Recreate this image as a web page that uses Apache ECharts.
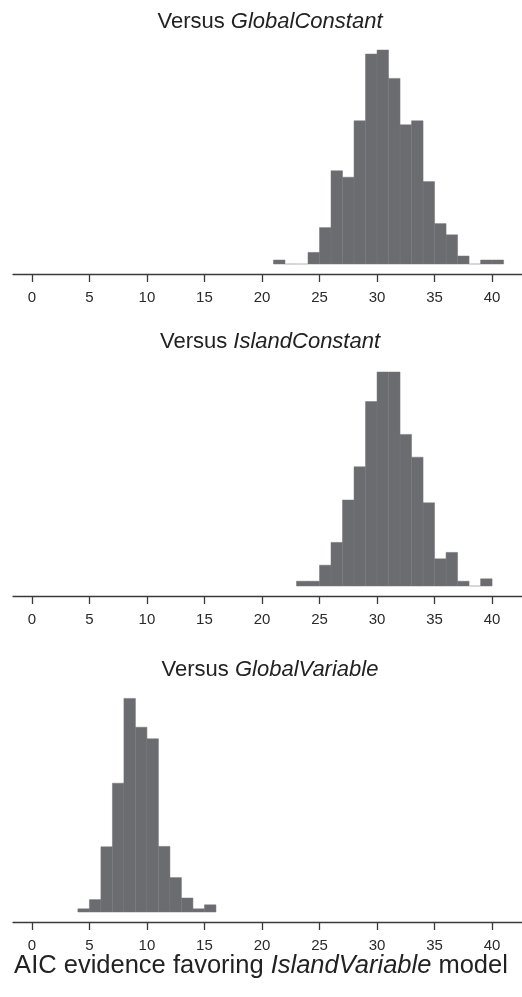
<!DOCTYPE html>
<html lang="en">
<head>
    <meta charset="UTF-8">
    <script src="https://cdn.jsdelivr.net/npm/echarts@6/dist/echarts.min.js"></script>
    <title>AIC evidence</title>
    <style>
        html, body { margin: 0; padding: 0; background: #fff; }
    </style>
</head>
<body>
    <div id="main" style="width: 522px;height:997px;"></div>
</body>
<script type="text/javascript">
    // panel titles (italic part kept separate)
    var panelNames = ['GlobalConstant', 'IslandConstant', 'GlobalVariable'];
    var tickValues = [0, 5, 10, 15, 20, 25, 30, 35, 40];

    // left edge of each 1-unit bin, and its height
    var gcBins   = [21, 22, 23, 24, 25, 26, 27, 28, 29, 30, 31, 32, 33, 34, 35, 36, 37, 38, 39, 40];
    var gcCounts = [1, 0, 0, 2.9, 9.1, 23.3, 21.7, 35.8, 52.5, 53.5, 46.4, 34.8, 35.8, 20.6, 10.1, 7.3, 2, 0, 1, 1];

    var icBins   = [23, 24, 25, 26, 27, 28, 29, 30, 31, 32, 33, 34, 35, 36, 37, 38, 39];
    var icCounts = [1.2, 1.2, 5.2, 10.9, 21.5, 29.8, 46.1, 53.5, 53.5, 37.9, 32.2, 20.8, 6.8, 8.4, 1.2, 0, 1.8];

    var gvBins   = [4, 5, 6, 7, 8, 9, 10, 11, 12, 13, 14, 15];
    var gvCounts = [0.8, 3.1, 16.3, 32.2, 53.4, 46.2, 43.3, 16.4, 8.6, 3.5, 0.8, 1.8];

    var font = 'Liberation Sans, Arial, Helvetica, sans-serif';
    var baselines = [264, 586, 912];   // bottom of bars for each panel
    var panelH = 224;

    function toData(bins, counts) {
        var out = [];
        for (var i = 0; i < bins.length; i++) {
            out.push([bins[i], bins[i] + 1, counts[i]]);
        }
        return out;
    }

    function renderBar(params, api) {
        var p0 = api.coord([api.value(0), 0]);
        var p1 = api.coord([api.value(1), api.value(2)]);
        if (api.value(2) === 0) {
            return {
                type: 'line',
                shape: {x1: p0[0], y1: p0[1], x2: p1[0], y2: p0[1]},
                style: {stroke: '#b0b0b0', lineWidth: 1}
            };
        }
        return {
            type: 'rect',
            shape: {x: p0[0], y: p1[1], width: p1[0] - p0[0], height: p0[1] - p1[1]},
            style: {fill: '#6b6c70', stroke: '#747579', lineWidth: 0.5}
        };
    }

    var allData = [toData(gcBins, gcCounts), toData(icBins, icCounts), toData(gvBins, gvCounts)];

    var grids = [], xAxes = [], yAxes = [], series = [], titles = [];
    var titleY = [6, 326, 654];
    for (var k = 0; k < 3; k++) {
        grids.push({left: 13, width: 522, top: baselines[k] - panelH, height: panelH});
        xAxes.push({
            gridIndex: k,
            type: 'value',
            min: -1.64,
            max: 42.6,
            offset: 10,
            splitLine: {show: false},
            axisLine: {show: true, onZero: false, lineStyle: {color: '#3a3a3a', width: 1.3}},
            axisTick: {show: true, inside: false, length: 8, customValues: tickValues, lineStyle: {color: '#3a3a3a', width: 1.3}},
            axisLabel: {show: true, customValues: tickValues, margin: 16, fontSize: 15, color: '#2a2a2a', fontFamily: font}
        });
        yAxes.push({
            gridIndex: k,
            type: 'value',
            min: 0,
            max: 56,
            show: false,
            splitLine: {show: false}
        });
        series.push({
            type: 'custom',
            xAxisIndex: k,
            yAxisIndex: k,
            renderItem: renderBar,
            encode: {x: [0, 1], y: 2},
            data: allData[k],
            silent: true
        });
        titles.push({
            text: 'Versus {i|' + panelNames[k] + '}',
            left: 265,
            top: titleY[k],
            textAlign: 'center',
            textStyle: {
                fontSize: 22, fontWeight: 'normal', color: '#222', fontFamily: font,
                rich: {i: {fontSize: 22, fontStyle: 'italic', color: '#222', fontFamily: font}}
            }
        });
    }
    titles.push({
        text: 'AIC evidence favoring {i|IslandVariable} model',
        left: 256,
        top: 948,
        textAlign: 'center',
        textStyle: {
            fontSize: 25.5, fontWeight: 'normal', color: '#222', fontFamily: font,
            rich: {i: {fontSize: 25.5, fontStyle: 'italic', color: '#222', fontFamily: font}}
        }
    });

    var chart = echarts.init(document.getElementById('main'));
    chart.setOption({
        animation: false,
        backgroundColor: '#fff',
        title: titles,
        grid: grids,
        xAxis: xAxes,
        yAxis: yAxes,
        series: series
    });
</script>
</html>
